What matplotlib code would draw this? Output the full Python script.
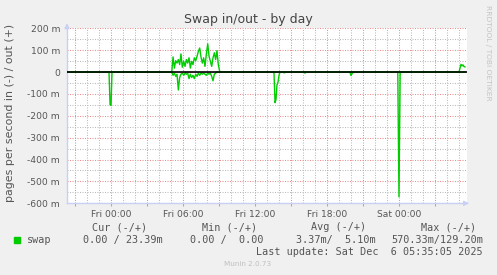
import matplotlib
matplotlib.use("Agg")
import matplotlib.pyplot as plt
import matplotlib.dates as mdates
from matplotlib.ticker import FuncFormatter, MultipleLocator
from matplotlib.patches import Rectangle
import pandas as pd

# time in hours after Fri 05 Dec 2025 00:00, values in milli pages/s
base = pd.Timestamp("2025-12-05 00:00")

out_hours = [-3.7, 5.06, 5.17, 5.28, 5.39, 5.50, 5.61, 5.72, 5.83, 5.94, 6.06, 6.17,
             6.28, 6.39, 6.50, 6.61, 6.72, 6.83, 6.94, 7.06, 7.17, 7.28, 7.39, 7.50,
             7.61, 7.72, 7.83, 7.94, 8.06, 8.17, 8.28, 8.39, 8.50, 8.61, 8.72, 8.83,
             8.94, 9.06, 9.17, 29.0, 29.17, 29.25, 29.33, 29.42, 29.5]
out_vals = [0, 0, 69, 18, 52, 41, 57, 34, 83, 22, 49, 26,
            57, 41, 65, 18, 49, 34, 65, 52, 72, 95, 110, 68,
            41, 65, 26, 80, 129, 72, 49, 26, 65, 88, 57, 98,
            34, 3, 0, 0, 35, 28, 33, 25, 23.4]

in_hours = [-3.7, -0.17, -0.08, 0.0, 0.08, 5.06, 5.17, 5.28, 5.39, 5.50, 5.61, 5.72,
            5.83, 5.94, 6.06, 6.17, 6.28, 6.39, 6.50, 6.61, 6.72, 6.83, 6.94, 7.06,
            7.17, 7.28, 7.39, 7.50, 7.61, 7.72, 7.83, 7.94, 8.06, 8.17, 8.28, 8.39,
            8.50, 8.61, 8.72, 8.83, 13.58, 13.67, 13.75, 13.83, 13.92, 14.0, 14.08,
            14.33, 14.42, 14.5, 16.08, 16.17, 16.25, 19.92, 20.0, 20.08, 20.17,
            23.9, 24.0, 24.1, 29.5]
in_vals = [0, 0, 150, 152, 0, 0, 15, 5, 20, 10, 82, 25,
           10, 5, 15, 5, 10, 5, 30, 10, 25, 15, 30, 10,
           20, 5, 15, 5, 10, 5, 10, 15, 5, 10, 5, 20,
           40, 10, 5, 0, 0, 140, 125, 60, 45, 15, 0,
           0, 4, 0, 0, 5, 0, 0, 16, 8, 0,
           0, 570, 0, 0]

BG = "#F0F0F0"
TXT = "#555555"
GREEN = "#00CC00"
MAJ = "#E89090"
MIN = "#BBBBBB"
AXC = "#C8D0F4"

fig = plt.figure(figsize=(4.97, 2.75), dpi=100, facecolor=BG)
ax = fig.add_axes([67/497, 1-203.3/275, 400/497, 175/275])
ax.set_facecolor("white")

t_out = base + pd.to_timedelta(out_hours, unit="h")
t_in = base + pd.to_timedelta(in_hours, unit="h")
ax.plot(t_out, out_vals, color=GREEN, lw=1, zorder=3)
ax.plot(t_in, [-v for v in in_vals], color=GREEN, lw=1, zorder=3)
ax.axhline(0, color="black", lw=1.2, zorder=4)

ax.set_xlim(base + pd.Timedelta(hours=-3.67), base + pd.Timedelta(hours=29.67))
ax.set_ylim(-600, 200)

# grid: red every 3h / 100m, grey every 1h / 50m
ax.xaxis.set_major_locator(mdates.HourLocator(byhour=range(0, 24, 3)))
ax.xaxis.set_minor_locator(mdates.HourLocator(byhour=range(24)))
ax.xaxis.set_major_formatter(FuncFormatter(
    lambda v, p: mdates.num2date(v).strftime("%a %H:%M") if mdates.num2date(v).hour % 6 == 0 else ""))
ax.yaxis.set_major_locator(MultipleLocator(100))
ax.yaxis.set_minor_locator(MultipleLocator(50))
ax.yaxis.set_major_formatter(FuncFormatter(lambda v, p: "0" if v == 0 else f"{v:.0f} m"))

ax.grid(True, which="minor", color=MIN, lw=0.75, ls=(0, (1, 1.4)), zorder=1)
ax.grid(True, which="major", color=MAJ, lw=0.75, ls=(0, (1, 1.4)), zorder=2)

ax.tick_params(axis="x", which="major", length=2, direction="out", color=MAJ,
               labelsize=6.6, labelcolor=TXT, pad=2.5)
ax.tick_params(axis="x", which="minor", length=0)
ax.tick_params(axis="y", which="both", length=0, labelsize=6.6, labelcolor=TXT, pad=5)

for s in ["top", "right"]:
    ax.spines[s].set_visible(False)
for s in ["left", "bottom"]:
    ax.spines[s].set_color(AXC)
    ax.spines[s].set_linewidth(1)

ax.annotate("", xy=(0, 1.045), xytext=(0, 0.99), xycoords="axes fraction",
            arrowprops=dict(arrowstyle="-|>", color=AXC, lw=1, mutation_scale=7))
ax.annotate("", xy=(1.012, 0), xytext=(0.99, 0), xycoords="axes fraction",
            arrowprops=dict(arrowstyle="-|>", color=AXC, lw=1, mutation_scale=7))

fig.text(248.5/497, 1-20/275, "Swap in/out - by day", ha="center", va="center",
         fontsize=9, color="#444444")
fig.text(10/497, 1-113/275, "pages per second in (-) / out (+)", rotation=90,
         ha="center", va="center", fontsize=7.9, color=TXT)
fig.text(488/497, 1-5/275, "RRDTOOL / TOBI OETIKER", rotation=270,
         ha="center", va="top", fontsize=5.4, color="#C4C4C4")

# legend block
mono = dict(family="DejaVu Sans Mono", fontsize=7.25, color=TXT, va="center")
headers = ["Cur (-/+)", "Min (-/+)", "Avg (-/+)", "Max (-/+)"]
header_x = [147, 257, 366, 476]
values = ["0.00 / 23.39m", "0.00 /  0.00", "3.37m/  5.10m", "570.33m/129.20m"]
value_x = [163, 263, 376, 483]
for h, x in zip(headers, header_x):
    fig.text(x/497, 1-227/275, h, ha="right", **mono)
for v, x in zip(values, value_x):
    fig.text(x/497, 1-240/275, v, ha="right", **mono)
fig.patches.append(Rectangle((14/497, 1-243/275), 6/497, 6/275,
                             transform=fig.transFigure, color=GREEN, figure=fig))
fig.text(27/497, 1-240/275, "swap", ha="left", **mono)
fig.text(483/497, 1-252/275, "Last update: Sat Dec  6 05:35:05 2025", ha="right", **mono)
fig.text(248/497, 1-264/275, "Munin 2.0.73", ha="center", va="center",
         fontsize=5.2, color="#C0C0C0")

fig.savefig("out.png", dpi=100, facecolor=BG)
